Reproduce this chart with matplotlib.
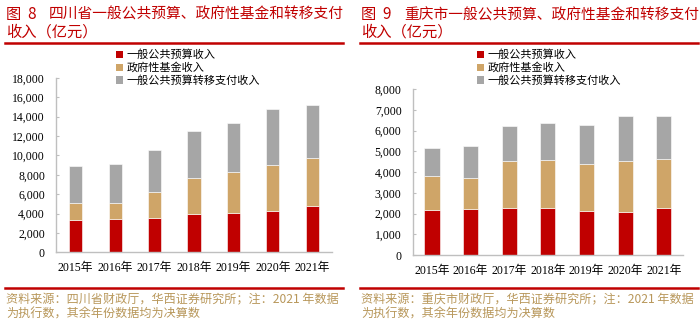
import matplotlib
matplotlib.use("Agg")
import matplotlib.pyplot as plt
from matplotlib.patches import Patch
from matplotlib.lines import Line2D
import numpy as np

plt.rcParams['font.family'] = ['Noto Sans CJK SC', 'DejaVu Sans']

years = ["2015年", "2016年", "2017年", "2018年", "2019年", "2020年", "2021年"]
series_names = ["一般公共预算收入", "政府性基金收入", "一般公共预算转移支付收入"]

# Sichuan
sc_general = [3360, 3390, 3580, 3910, 4070, 4260, 4790]
sc_fund = [1740, 1680, 2660, 3810, 4200, 4760, 4950]
sc_transfer = [3790, 4100, 4300, 4800, 5120, 5810, 5500]

# Chongqing
cq_general = [2160, 2230, 2250, 2270, 2140, 2090, 2280]
cq_fund = [1650, 1500, 2270, 2320, 2270, 2460, 2370]
cq_transfer = [1370, 1530, 1710, 1800, 1880, 2180, 2060]

sc_yticks = [0, 2000, 4000, 6000, 8000, 10000, 12000, 14000, 16000, 18000]
cq_yticks = [0, 1000, 2000, 3000, 4000, 5000, 6000, 7000, 8000]

title_left = ["图  8", "四川省一般公共预算、政府性基金和转移支付", "收入（亿元）"]
title_right = ["图  9", "重庆市一般公共预算、政府性基金和转移支付", "收入（亿元）"]
source_left = ["资料来源：四川省财政厅，华西证券研究所；注：2021 年数据", "为执行数，其余年份数据均为决算数"]
source_right = ["资料来源：重庆市财政厅，华西证券研究所；注：2021 年数据", "为执行数，其余年份数据均为决算数"]

colors = ["#c00000", "#cfa568", "#a6a6a6"]
red = "#c00000"
gold = "#b8975a"
W, H = 700, 333

fig = plt.figure(figsize=(7, 3.33), dpi=100)


def fx(px):
    return px / W


def fy(py):
    return 1 - py / H


def draw_panel(rect, general, fund, transfer, yticks, width, legend_pos):
    ax = fig.add_axes(rect)
    x = np.arange(len(years))
    ax.bar(x, general, width, color=colors[0], edgecolor="white", linewidth=0.4)
    ax.bar(x, fund, width, bottom=general, color=colors[1], edgecolor="white", linewidth=0.4)
    bottom2 = np.array(general) + np.array(fund)
    ax.bar(x, transfer, width, bottom=bottom2, color=colors[2], edgecolor="white", linewidth=0.4)
    ax.set_xlim(-0.5, len(years) - 0.5)
    ax.set_ylim(yticks[0], yticks[-1])
    ax.set_yticks(yticks)
    ax.set_yticklabels([f"{v:,}" for v in yticks], family=["Liberation Serif", "Noto Sans CJK SC"], fontsize=8.5)
    ax.set_xticks(x)
    ax.set_xticklabels(years, family=["Liberation Serif", "Noto Sans CJK SC"], fontsize=8.5)
    for s in ["top", "right"]:
        ax.spines[s].set_visible(False)
    for s in ["left", "bottom"]:
        ax.spines[s].set_color("#bfbfbf")
        ax.spines[s].set_linewidth(1.0)
    ax.tick_params(axis="y", direction="in", length=2, color="#bfbfbf", pad=8)
    ax.tick_params(axis="x", length=0, pad=7)
    handles = [Patch(facecolor=c, edgecolor="none") for c in colors]
    fig.legend(handles, series_names, loc="upper left", bbox_to_anchor=legend_pos,
               frameon=False, fontsize=8, handlelength=0.6, handleheight=0.6,
               handletextpad=0.35, labelspacing=0.2, borderpad=0, borderaxespad=0)
    return ax


draw_panel([fx(56), fy(252.3), fx(332 - 56), (252.3 - 78) / H],
           sc_general, sc_fund, sc_transfer, sc_yticks, 0.33, (fx(116), fy(49.5)))
draw_panel([fx(412.7), fy(255), fx(683 - 412.7), (255 - 89.3) / H],
           cq_general, cq_fund, cq_transfer, cq_yticks, 0.39, (fx(477), fy(49.5)))

for x0, x1, tx, title, src in [(5, 343, 49, title_left, source_left),
                               (360, 698, 404, title_right, source_right)]:
    fig.text(fx(x0 + 1), fy(15), title[0], color=red, fontsize=11, va="center", ha="left")
    fig.text(fx(tx), fy(15), title[1], color=red, fontsize=10.6, va="center", ha="left")
    fig.text(fx(x0 + 1), fy(32), title[2], color=red, fontsize=11, va="center", ha="left")
    fig.add_artist(Line2D([fx(x0), fx(x1)], [fy(42.5), fy(42.5)], color=red, linewidth=1.8))
    fig.add_artist(Line2D([fx(x0), fx(x1)], [fy(288), fy(288)], color=red, linewidth=1.8))
    fig.text(fx(x0 + 1), fy(299.5), src[0], color=gold, fontsize=8.7, va="center", ha="left")
    fig.text(fx(x0 + 1), fy(314), src[1], color=gold, fontsize=8.7, va="center", ha="left")

fig.savefig("out.png", dpi=100)
